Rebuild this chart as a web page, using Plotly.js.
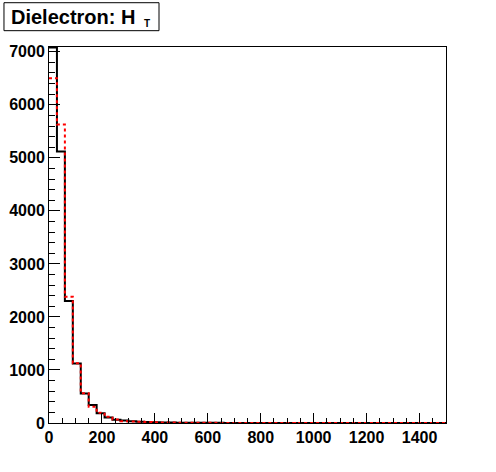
<!DOCTYPE html>
<html><head><meta charset="utf-8">
<script src="https://cdn.plot.ly/plotly-3.0.1.min.js"></script>
<style>html,body{margin:0;padding:0;background:#fff}#chart{width:496px;height:472px}</style>
</head><body><div id="chart"></div>
<script>
// bin edges in HT (GeV), width 30, 0..1500
const binLow = [0,30,60,90,120,150,180,210,240,270,300,330,360,390,420,450,480,510,540,570,600,630,660,690,720,750,780,810,840,870,900,930,960,990,1020,1050,1080,1110,1140,1170,1200,1230,1260,1290,1320,1350,1380,1410,1440,1470];
const binHigh = 1500;
const blackCounts = [7080,5120,2300,1120,555,340,185,105,62,45,32,25,18,14,11,9,7,6,5,4,3,3,2,2,2,1,1,1,1,1,1,1,0,1,0,0,1,0,0,0,0,0,0,0,0,0,0,0,0,0];
const redCounts   = [6500,5630,2380,1125,560,305,195,118,66,32,28,22,18,13,10,8,6,5,4,3,3,2,2,2,1,1,1,1,1,0,1,0,1,0,0,0,0,1,0,0,0,0,0,0,0,0,0,0,0,0];
const xTickVals = [0,200,400,600,800,1000,1200,1400];
const yTickVals = [0,1000,2000,3000,4000,5000,6000,7000];

function stepTrace(counts, color, dash){
  const x = binLow.concat([binHigh]);
  const y = counts.concat([counts[counts.length-1]]);
  return {x:x, y:y, type:'scatter', mode:'lines', line:{shape:'hv', color:color, width:2, dash:dash}, hoverinfo:'skip', showlegend:false};
}
const traces = [stepTrace(blackCounts,'#000000','solid'), stepTrace(redCounts,'#ff0000','3px,3px')];
const fam = '"Liberation Sans", Arial, sans-serif';
const layout = {
  width:496, height:472,
  margin:{l:49, r:50, t:47, b:49, pad:0},
  paper_bgcolor:'#fff', plot_bgcolor:'#fff',
  font:{family:fam, size:16, color:'#000'},
  xaxis:{range:[0,1500], tickvals:xTickVals, ticktext:xTickVals.map(String), ticks:'inside', ticklen:10, tickwidth:1, tickcolor:'#000',
    showline:true, linecolor:'#000', linewidth:1, mirror:true, showgrid:false, zeroline:false,
    tickfont:{family:fam, size:16, color:'#000', weight:'bold'},
    minor:{dtick:50, tick0:0, ticks:'inside', ticklen:5, tickcolor:'#000', showgrid:false}},
  yaxis:{range:[0,7090], tickvals:yTickVals, ticktext:yTickVals.map(String), ticks:'inside', ticklen:11, tickwidth:1, tickcolor:'#000',
    showline:true, linecolor:'#000', linewidth:1, mirror:true, showgrid:false, zeroline:false,
    tickfont:{family:fam, size:16, color:'#000', weight:'bold'},
    minor:{dtick:200, tick0:0, ticks:'inside', ticklen:6, tickcolor:'#000', showgrid:false}},
  shapes:[{type:'rect', xref:'paper', yref:'paper', x0:-0.1134, x1:0.2771, y0:1.0434, y1:1.1178, line:{color:'#000', width:1}, fillcolor:'rgba(0,0,0,0)'}],
  annotations:[
    {xref:'paper', yref:'paper', x:-0.1005, y:1.0805, xanchor:'left', yanchor:'middle', showarrow:false,
     text:'<b>Dielectron: H</b>', font:{family:fam, size:20, color:'#000'}},
    {xref:'paper', yref:'paper', x:0.233, y:1.063, xanchor:'left', yanchor:'middle', showarrow:false,
     text:'<b>T</b>', font:{family:fam, size:10, color:'#000'}}
  ]
};
Plotly.newPlot('chart', traces, layout, {staticPlot:true, displayModeBar:false});
</script></body></html>
